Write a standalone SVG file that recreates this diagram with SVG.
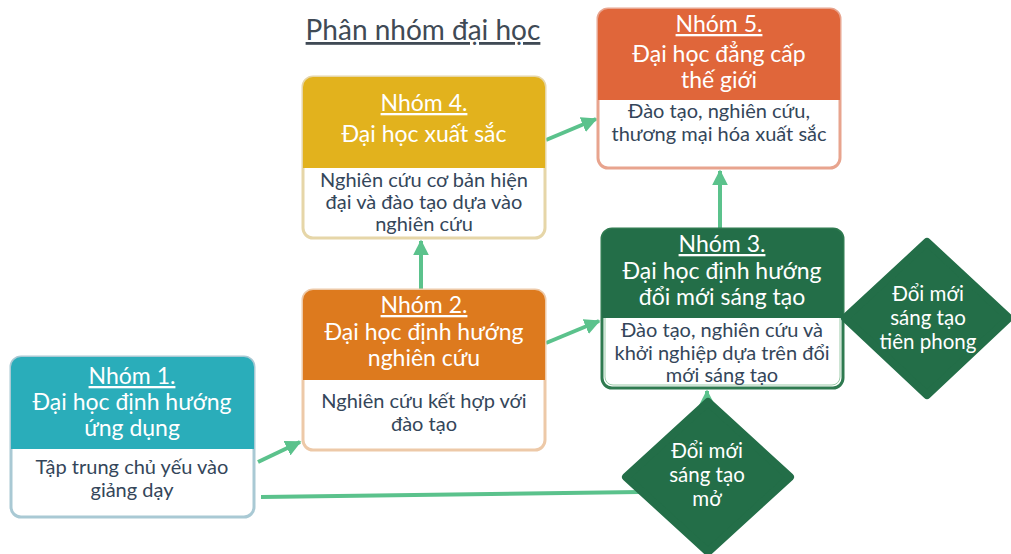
<svg xmlns="http://www.w3.org/2000/svg" width="1011" height="554" viewBox="0 0 1011 554">
<defs>
<marker id="ah" viewBox="0 0 10 10" refX="9" refY="5" markerWidth="4" markerHeight="4" orient="auto" markerUnits="strokeWidth">
<path d="M0,0 L10,5 L0,10 Z" fill="#5BC28C"/>
</marker>
<style>
text{font-family:"Lato","Noto Sans","Liberation Sans",sans-serif;text-anchor:middle}
.hd{fill:#FFFFFF;font-size:23px}
.hu{text-decoration:underline}
.bd{fill:#34465A;font-size:20px}
.dm{fill:#FFFFFF;font-size:20.5px}
.cn{stroke:#5BC28C;stroke-width:4;fill:none}
.ttl{fill:#404A55;font-size:28px;text-decoration:underline}
</style>
</defs>
<rect width="1011" height="554" fill="#FFFFFF"/>
<text class="ttl" x="423" y="40">Phân nhóm đại học</text>
<g id="connectors">
<line class="cn" x1="258" y1="462" x2="300" y2="442" marker-end="url(#ah)"/>
<line class="cn" x1="421" y1="289" x2="421" y2="241" marker-end="url(#ah)"/>
<line class="cn" x1="546" y1="140" x2="596" y2="119" marker-end="url(#ah)"/>
<line class="cn" x1="546" y1="343" x2="599" y2="321" marker-end="url(#ah)"/>
<line class="cn" x1="720" y1="228" x2="720" y2="171" marker-end="url(#ah)"/>
<line class="cn" x1="707" y1="401" x2="707" y2="391" marker-end="url(#ah)"/>
<polyline class="cn" points="261,497 640,492"/>
</g>
<g id="node1">
<rect x="11" y="357" width="243" height="160" rx="10" fill="#FFFFFF" stroke="#A9C9D4" stroke-width="3"/>
<path d="M11,449 V367 A10,10 0 0 1 21,357 H244 A10,10 0 0 1 254,367 V449 Z" fill="#2AADBA"/>
<text class="hd hu" x="132" y="384">Nhóm 1.</text>
<text class="hd" x="132" y="410">Đại học định hướng</text>
<text class="hd" x="132" y="436">ứng dụng</text>
<text class="bd" x="132" y="474">Tập trung chủ yếu vào</text>
<text class="bd" x="132" y="497">giảng dạy</text>
</g>
<g id="node2">
<rect x="303" y="290" width="242" height="160" rx="10" fill="#FFFFFF" stroke="#EDC9A8" stroke-width="3"/>
<path d="M303,380 V300 A10,10 0 0 1 313,290 H535 A10,10 0 0 1 545,300 V380 Z" fill="#DD7A1E"/>
<text class="hd hu" x="424" y="313">Nhóm 2.</text>
<text class="hd" x="424" y="340">Đại học định hướng</text>
<text class="hd" x="424" y="366">nghiên cứu</text>
<text class="bd" x="424" y="408">Nghiên cứu kết hợp với</text>
<text class="bd" x="424" y="431">đào tạo</text>
</g>
<g id="node4">
<rect x="303" y="77" width="242" height="161" rx="10" fill="#FFFFFF" stroke="#E6D6A8" stroke-width="3"/>
<path d="M303,168 V87 A10,10 0 0 1 313,77 H535 A10,10 0 0 1 545,87 V168 Z" fill="#E2B21D"/>
<text class="hd hu" x="424" y="111">Nhóm 4.</text>
<text class="hd" x="424" y="142">Đại học xuất sắc</text>
<text class="bd" x="424" y="187">Nghiên cứu cơ bản hiện</text>
<text class="bd" x="424" y="209">đại và đào tạo dựa vào</text>
<text class="bd" x="424" y="231">nghiên cứu</text>
</g>
<g id="node5">
<rect x="598" y="9" width="242" height="159" rx="10" fill="#FFFFFF" stroke="#E8A48E" stroke-width="3"/>
<path d="M598,100 V19 A10,10 0 0 1 608,9 H830 A10,10 0 0 1 840,19 V100 Z" fill="#E0663A"/>
<text class="hd hu" x="719" y="32">Nhóm 5.</text>
<text class="hd" x="719" y="62">Đại học đẳng cấp</text>
<text class="hd" x="719" y="88">thế giới</text>
<text class="bd" x="719" y="118">Đào tạo, nghiên cứu,</text>
<text class="bd" x="719" y="141">thương mại hóa xuất sắc</text>
</g>
<g id="node3">
<rect x="602" y="229" width="241" height="159" rx="10" fill="#FFFFFF" stroke="#2F7A50" stroke-width="3"/>
<rect x="605" y="232" width="235" height="153" rx="8" fill="none" stroke="#9BCBA8" stroke-width="1"/>
<path d="M602,318 V239 A10,10 0 0 1 612,229 H833 A10,10 0 0 1 843,239 V318 Z" fill="#236E48"/>
<text class="hd hu" x="722" y="252">Nhóm 3.</text>
<text class="hd" x="722" y="279">Đại học định hướng</text>
<text class="hd" x="722" y="305">đổi mới sáng tạo</text>
<text class="bd" x="722" y="337">Đào tạo, nghiên cứu và</text>
<text class="bd" x="722" y="360">khởi nghiệp dựa trên đổi</text>
<text class="bd" x="722" y="382">mới sáng tạo</text>
</g>
<g id="diamond1">
<path d="M927,242 L1009,318 L927,395 L845,318 Z" fill="#236E48" stroke="#236E48" stroke-width="8" stroke-linejoin="round"/>
<text class="dm" x="928" y="301">Đổi mới</text>
<text class="dm" x="928" y="325">sáng tạo</text>
<text class="dm" x="928" y="349">tiên phong</text>
</g>
<g id="diamond2">
<path d="M708,402 L790,477 L708,552 L626,477 Z" fill="#236E48" stroke="#236E48" stroke-width="8" stroke-linejoin="round"/>
<text class="dm" x="707" y="458">Đổi mới</text>
<text class="dm" x="707" y="482">sáng tạo</text>
<text class="dm" x="707" y="506">mở</text>
</g>
</svg>
